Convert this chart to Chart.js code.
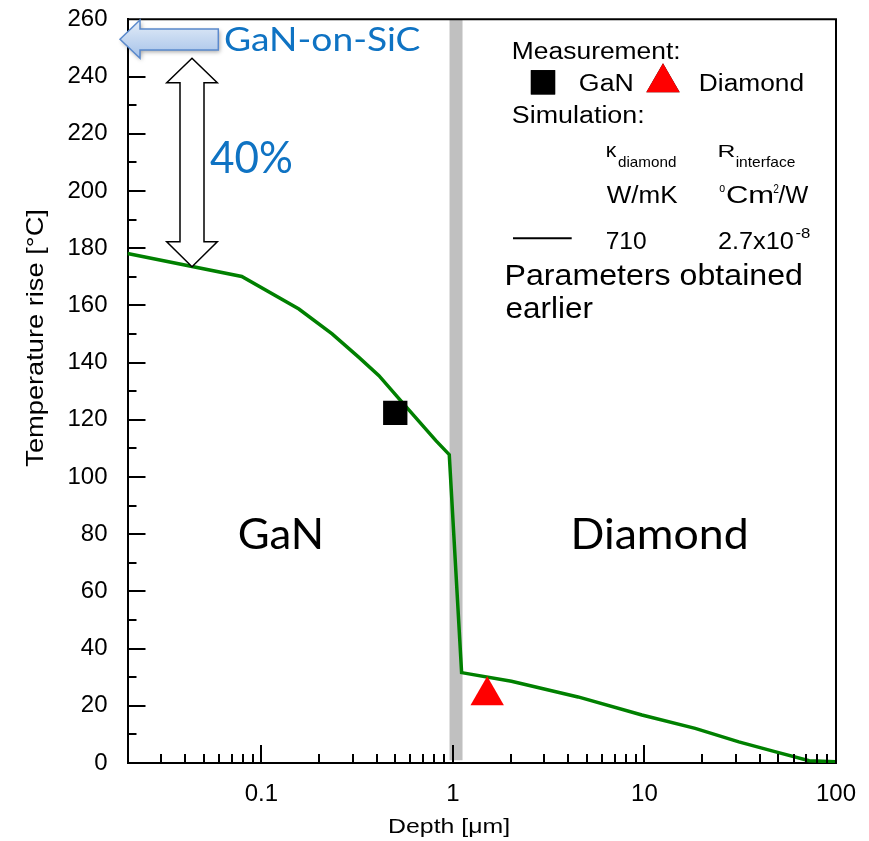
<!DOCTYPE html>
<html>
<head>
<meta charset="utf-8">
<script src="https://cdn.jsdelivr.net/npm/chart.js@4/dist/chart.umd.min.js"></script>
<style>
  html, body { margin: 0; padding: 0; background: #ffffff; }
  #wrap { width: 869px; height: 841px; position: relative; }
</style>
</head>
<body>
<div id="wrap"><canvas id="c" width="869" height="841"></canvas></div>
<script>
// ---- data ----
const simDepth = [0.02, 0.079, 0.157, 0.234, 0.323, 0.411, 0.524, 0.815, 0.957, 1.11, 2.02, 4.5, 9.7, 18.4, 31.1, 48.5, 72.4, 100];
const simTemp  = [178.1, 170.1, 158.7, 150.0, 141.8, 135.4, 127.3, 112.7, 107.8, 31.6, 28.6, 23.1, 16.8, 12.1, 7.4, 3.9, 0.8, 0.4];
const ganDepth = [0.5];
const ganTemp  = [122.4];
const diamondDepth = [1.51];
const diamondTemp  = [23.6];
const interfaceDepth = [1.038, 1.038];
const interfaceSpan  = [1, 260];
const xTickValues = [0.1, 1, 10, 100];
const xTickLabels = ['0.1', '1', '10', '100'];
const yMin = 0, yMax = 260, yStep = 20;

const toPts = (xs, ys) => xs.map((v, i) => ({ x: v, y: ys[i] }));

function fitText(ctx, str, left, base, size, inkW, family, color) {
  ctx.font = size + 'px "' + family + '"';
  const m = ctx.measureText(str);
  const w = m.actualBoundingBoxLeft + m.actualBoundingBoxRight;
  const sx = inkW / w;
  ctx.save();
  ctx.translate(left + m.actualBoundingBoxLeft * sx, base);
  ctx.scale(sx, 1);
  ctx.fillStyle = color;
  ctx.textAlign = 'left';
  ctx.textBaseline = 'alphabetic';
  ctx.fillText(str, 0, 0);
  ctx.restore();
}

function seg(ctx, x1, y1, x2, y2) {
  ctx.beginPath(); ctx.moveTo(x1, y1); ctx.lineTo(x2, y2); ctx.stroke();
}

const decor = {
  id: 'decor',
  afterDatasetsDraw(chart) {
    const { ctx, chartArea: a, scales: { x, y } } = chart;
    ctx.save();
    // inward tick marks
    ctx.strokeStyle = '#000';
    ctx.lineWidth = 2;
    for (let v = yMin + 10; v < yMax; v += 10) {
      const py = Math.round(y.getPixelForValue(v));
      const len = (v % 20 === 0) ? 18 : 9;
      seg(ctx, a.left, py, a.left + len, py);
    }
    for (let e = -2; e <= 1; e++) {
      for (let k = 1; k <= 9; k++) {
        const v = k * Math.pow(10, e);
        if (v <= x.min * 1.0001 || v >= x.max * 0.9999) continue;
        const px = Math.round(x.getPixelForValue(v));
        const len = (k === 1) ? 18 : 9;
        seg(ctx, px, a.bottom, px, a.bottom - len);
      }
    }
    // top and right frame
    seg(ctx, a.left, a.top, a.right + 1, a.top);
    seg(ctx, a.right, a.top, a.right, a.bottom);

    // axis titles
    ctx.save();
    ctx.translate(42.7, 466.7);
    ctx.rotate(-Math.PI / 2);
    fitText(ctx, 'Temperature rise [°C]', 0, 0, 24.5, 256.7, 'Liberation Sans', '#000');
    ctx.restore();
    fitText(ctx, 'Depth [μm]', 389.3, 833.3, 20.5, 120, 'Liberation Sans', '#000');

    // blue "GaN-on-SiC" arrow
    ctx.save();
    ctx.beginPath();
    ctx.moveTo(120, 39.2);
    ctx.lineTo(140, 20);
    ctx.lineTo(140, 29);
    ctx.lineTo(218.3, 29);
    ctx.lineTo(218.3, 50);
    ctx.lineTo(140, 50);
    ctx.lineTo(140, 58.3);
    ctx.closePath();
    const g = ctx.createLinearGradient(0, 20, 0, 58);
    g.addColorStop(0, '#e4edf8');
    g.addColorStop(1, '#a5c2e9');
    ctx.shadowColor = 'rgba(0,0,0,0.35)';
    ctx.shadowBlur = 4;
    ctx.shadowOffsetX = 1.5;
    ctx.shadowOffsetY = 2;
    ctx.fillStyle = g;
    ctx.fill();
    ctx.shadowColor = 'transparent';
    ctx.strokeStyle = '#5a89cc';
    ctx.lineWidth = 1.5;
    ctx.stroke();
    ctx.restore();
    fitText(ctx, 'GaN-on-SiC', 225, 50.7, 33.5, 195, 'Lato', '#0f73c3');

    // white double-headed arrow
    ctx.save();
    ctx.beginPath();
    ctx.moveTo(192, 58.3);
    ctx.lineTo(217.3, 82.7);
    ctx.lineTo(204, 82.7);
    ctx.lineTo(204, 241.7);
    ctx.lineTo(217.3, 241.7);
    ctx.lineTo(192, 266.7);
    ctx.lineTo(166.7, 241.7);
    ctx.lineTo(180, 241.7);
    ctx.lineTo(180, 82.7);
    ctx.lineTo(166.7, 82.7);
    ctx.closePath();
    ctx.fillStyle = '#ffffff';
    ctx.fill();
    ctx.strokeStyle = '#000';
    ctx.lineWidth = 1.5;
    ctx.lineJoin = 'miter';
    ctx.stroke();
    ctx.restore();
    fitText(ctx, '40%', 210, 173.3, 44, 81.7, 'Lato', '#0f73c3');

    // region labels
    fitText(ctx, 'GaN', 239.7, 549.2, 42.5, 80.8, 'Lato', '#000');
    fitText(ctx, 'Diamond', 573.6, 549.2, 42.5, 172.2, 'Lato', '#000');

    // legend block
    const F = 'Liberation Sans';
    fitText(ctx, 'Measurement:', 513, 59.3, 23.3, 166, F, '#000');
    ctx.beginPath();
    Chart.helpers.drawPoint(ctx, { pointStyle: 'rect', radius: 17.2, borderWidth: 0 }, 543, 82.3);
    ctx.fillStyle = '#000';
    ctx.fill();
    fitText(ctx, 'GaN', 580, 90.7, 23.3, 51.7, F, '#000');
    ctx.beginPath();
    Chart.helpers.drawPoint(ctx, { pointStyle: 'triangle', radius: 19.3, borderWidth: 0 }, 663, 82.6);
    ctx.fillStyle = '#ff0000';
    ctx.fill();
    fitText(ctx, 'Diamond', 700, 90.7, 23.3, 103, F, '#000');
    fitText(ctx, 'Simulation:', 513, 123.3, 23.3, 130, F, '#000');
    fitText(ctx, 'κ', 606.7, 156.5, 20, 10.6, F, '#000');
    fitText(ctx, 'diamond', 618, 166.7, 15, 58, F, '#000');
    fitText(ctx, 'R', 719, 156.5, 17, 16, F, '#000');
    fitText(ctx, 'interface', 736.7, 166.7, 15, 58.3, F, '#000');
    fitText(ctx, 'W/mK', 606.7, 202.7, 23.3, 71.3, F, '#000');
    fitText(ctx, 'o', 719.3, 191.7, 13, 5.7, F, '#000');
    fitText(ctx, 'Cm', 727.3, 202.7, 23.3, 45, F, '#000');
    fitText(ctx, '2', 773.3, 193.3, 13, 5.5, F, '#000');
    fitText(ctx, '/W', 778.5, 202.7, 23.3, 29.8, F, '#000');
    ctx.strokeStyle = '#000';
    ctx.lineWidth = 2;
    seg(ctx, 513, 238.3, 571.7, 238.3);
    fitText(ctx, '710', 606.7, 249.3, 23.3, 40, F, '#000');
    fitText(ctx, '2.7x10', 719, 249.3, 23.3, 75, F, '#000');
    fitText(ctx, '-8', 795.5, 238.3, 15, 14.5, F, '#000');
    fitText(ctx, 'Parameters obtained', 506.7, 285, 29, 295, F, '#000');
    fitText(ctx, 'earlier', 506.7, 317.7, 29, 86.7, F, '#000');
    ctx.restore();
  }
};

new Chart(document.getElementById('c'), {
  type: 'line',
  data: {
    datasets: [
      {
        label: 'GaN measurement',
        data: toPts(ganDepth, ganTemp),
        showLine: false,
        pointStyle: 'rect',
        pointRadius: 17.2,
        pointHoverRadius: 17.2,
        pointBackgroundColor: '#000000',
        pointBorderWidth: 0,
        order: 0
      },
      {
        label: 'Diamond measurement',
        data: toPts(diamondDepth, diamondTemp),
        showLine: false,
        pointStyle: 'triangle',
        pointRadius: 19.3,
        pointHoverRadius: 19.3,
        pointBackgroundColor: '#ff0000',
        pointBorderWidth: 0,
        order: 0
      },
      {
        label: 'Simulation',
        data: toPts(simDepth, simTemp),
        borderColor: '#008000',
        borderWidth: 3.5,
        pointRadius: 0,
        tension: 0,
        fill: false,
        order: 1
      },
      {
        label: 'GaN/diamond interface',
        data: toPts(interfaceDepth, interfaceSpan),
        borderColor: '#c0c0c0',
        borderWidth: 13,
        borderCapStyle: 'butt',
        pointRadius: 0,
        fill: false,
        order: 3
      }
    ]
  },
  options: {
    responsive: false,
    animation: false,
    events: [],
    layout: { padding: { left: 0, right: 33, top: 18.5, bottom: 0 } },
    plugins: { legend: { display: false }, tooltip: { enabled: false } },
    scales: {
      x: {
        type: 'logarithmic',
        min: 0.02,
        max: 100,
        afterBuildTicks(s) { s.ticks = xTickValues.map(v => ({ value: v, major: true })); },
        afterFit(s) { s.height = 78; s.paddingLeft = 0; s.paddingRight = 0; },
        ticks: {
          autoSkip: false,
          maxRotation: 0,
          minRotation: 0,
          padding: 17,
          color: '#000',
          font: { family: 'Liberation Sans', size: 24 },
          callback: (v, i) => xTickLabels[i]
        },
        grid: { display: false, drawTicks: false },
        border: { display: true, color: '#000', width: 2 },
        title: { display: false }
      },
      y: {
        type: 'linear',
        min: yMin,
        max: yMax,
        afterFit(s) { s.width = 127.5; s.paddingTop = 0; s.paddingBottom = 0; },
        ticks: {
          stepSize: yStep,
          padding: 20,
          color: '#000',
          font: { family: 'Liberation Sans', size: 24 }
        },
        grid: { display: false, drawTicks: false },
        border: { display: true, color: '#000', width: 2 },
        title: { display: false }
      }
    }
  },
  plugins: [decor]
});
</script>
</body>
</html>
